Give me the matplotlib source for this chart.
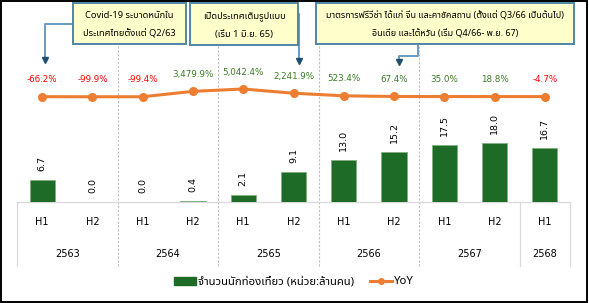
import matplotlib
matplotlib.use("Agg")
import matplotlib.pyplot as plt
from matplotlib import font_manager as fm
from matplotlib.ft2font import FT2Font
from matplotlib.patches import Rectangle, Patch
from matplotlib.lines import Line2D
from matplotlib.transforms import blended_transform_factory

# ---- data ----
halves = ["H1", "H2", "H1", "H2", "H1", "H2", "H1", "H2", "H1", "H2", "H1"]
years = ["2563", "2564", "2565", "2566", "2567", "2568"]
tourists = [6.7, 0.0, 0.0, 0.4, 2.1, 9.1, 13.0, 15.2, 17.5, 18.0, 16.7]
yoy = [-66.2, -99.9, -99.4, 3479.9, 5042.4, 2241.9, 523.4, 67.4, 35.0, 18.8, -4.7]
notes = [
    "Covid-19 ระบาดหนักใน\nประเทศไทยตั้งแต่ Q2/63",
    "เปิดประเทศเต็มรูปแบบ\n(เริ่ม 1 มิ.ย. 65)",
    "มาตรการฟรีวีซ่า ได้แก่ จีน และคาซัคสถาน (ตั้งแต่ Q3/66 เป็นต้นไป)\nอินเดีย และไต้หวัน (เริ่ม Q4/66- พ.ย. 67)",
]
bar_label = "จำนวนนักท่องเที่ยว (หน่วย:ล้านคน)"
line_label = "YoY"


def thai_font():
    preferred = ["Tahoma", "Noto Sans Thai", "Noto Sans Thai UI", "Leelawadee UI",
                 "Loma", "Garuda", "Sarabun", "Kinnari", "Norasi"]
    names = {f.name: f.fname for f in fm.fontManager.ttflist}
    for p in preferred:
        if p in names:
            return p
    for f in fm.fontManager.ttflist:
        try:
            if FT2Font(f.fname).get_char_index(ord("ก")):
                return f.name
        except Exception:
            pass
    return "DejaVu Sans"


TH = thai_font()
FAM = [TH, "DejaVu Sans"]
plt.rcParams["font.family"] = FAM

W, H = 589, 303
fig = plt.figure(figsize=(W / 100, H / 100), dpi=100)


def fx(x):
    return x / W


def fy(y):
    return 1 - y / H


# plot area in pixels: x 17..570, y 10..202
L, R, T, B = 17, 570, 10, 202
ax = fig.add_axes([fx(L), fy(B), (R - L) / W, (B - T) / H])
ax2 = ax.twinx()

xs = list(range(len(tourists)))
green = "#1e6a27"
orange = "#ED7D31"

ax.bar(xs, tourists, width=0.5, color=green, edgecolor="#7fb07f", linewidth=0.6, zorder=3)
ax.set_xlim(-0.5, len(xs) - 0.5)
ax.set_ylim(0, 58.9)

for x, v in zip(xs, tourists):
    ax.annotate(f"{v:.1f}", (x, v), xytext=(0, 6.5), textcoords="offset points",
                rotation=90, ha="center", va="bottom", fontsize=6.8,
                family="DejaVu Sans", color="black")

ax2.plot(xs, yoy, color=orange, linewidth=2.2, marker="o", markersize=5.5, zorder=4)
ax2.set_ylim(-69880, 57416)
for x, v in zip(xs, yoy):
    c = "#ff0000" if v < 0 else "#3b7a27"
    ax2.annotate(f"{v:,.1f}%", (x, v), xytext=(0, 12.2), textcoords="offset points",
                 ha="center", va="center", fontsize=6.3, family="DejaVu Sans", color=c)

for a in (ax, ax2):
    a.set_xticks([])
    a.set_yticks([])
    for s in a.spines.values():
        s.set_visible(False)
    a.patch.set_visible(False)

tr = blended_transform_factory(ax.transData, ax.transAxes)
low = (B - 266) / (B - T)

# category grid below the plot
ax.plot([-0.5, len(xs) - 0.5], [0, 0], color="#d9d9d9", lw=0.9, transform=tr, clip_on=False, zorder=2)
for xb in [1.5, 3.5, 5.5, 7.5]:
    ax.plot([xb, xb], [low, 1.0], color="#bfbfbf", lw=0.8, ls=(0, (2, 1.5)),
            transform=tr, clip_on=False, zorder=1)
for xb in [-0.5, 9.5, 10.5]:
    ax.plot([xb, xb], [low, 0], color="#d9d9d9", lw=0.9, transform=tr, clip_on=False)

yh = (B - 222) / (B - T)
yyr = (B - 254) / (B - T)
for x, h in zip(xs, halves):
    ax.text(x, yh, h, transform=tr, ha="center", va="center", fontsize=7, family="DejaVu Sans")
year_pos = [0.5, 2.5, 4.5, 6.5, 8.5, 10]
for x, y in zip(year_pos, years):
    ax.text(x, yyr, y, transform=tr, ha="center", va="center", fontsize=7, family="DejaVu Sans")

# note boxes with connector arrows
box_fill = "#ffffcc"
box_edge = "#4f86a8"
conn = "#6a9ac0"
head = "#1f4e6e"
boxes = [(72.7, 3, 186, 44), (190, 3, 298, 45), (316, 3, 574, 44)]
sizes = [6.7, 6.7, 6.5]
for (x0, y0, x1, y1), txt, fs in zip(boxes, notes, sizes):
    fig.add_artist(Rectangle((fx(x0), fy(y1)), fx(x1) - fx(x0), fy(y0) - fy(y1),
                             transform=fig.transFigure, facecolor=box_fill,
                             edgecolor=box_edge, linewidth=1.4, zorder=5))
    l1, l2 = txt.split("\n")
    cx = fx((x0 + x1) / 2)
    fig.text(cx, fy(16), l1, ha="center", va="center", fontsize=fs, fontweight="bold", zorder=6)
    fig.text(cx, fy(34), l2, ha="center", va="center", fontsize=fs, fontweight="bold", zorder=6)

paths = [
    [(72.7, 24), (45, 24), (45, 57)],
    [(299, 14), (299, 58)],
    [(418, 44), (418, 56), (399, 56), (399, 59)],
]
tips = [(45, 59.5), (299, 61), (399, 62)]
for pth, (tx, ty) in zip(paths, tips):
    fig.add_artist(Line2D([fx(p[0]) for p in pth], [fy(p[1]) for p in pth],
                          transform=fig.transFigure, color=conn, lw=1.4, zorder=4))
    fig.add_artist(Line2D([fx(tx)], [fy(ty)], transform=fig.transFigure, marker="v",
                          markersize=5, color=head, lw=0, zorder=6))

# legend
handles = [Patch(facecolor=green, edgecolor=green),
           Line2D([], [], color=orange, lw=2.2, marker="o", markersize=4)]
fig.legend(handles, [bar_label, line_label], loc="center", bbox_to_anchor=(fx(294), fy(282)),
           ncol=2, frameon=False, fontsize=8.2, handlelength=1.9, handleheight=0.7,
           handletextpad=0.2, columnspacing=1.4, borderpad=0)

# outer frame
fig.add_artist(Rectangle((0.002, 0.004), 0.995, 0.992, transform=fig.transFigure,
                         facecolor="none", edgecolor="black", linewidth=1.4, zorder=10))

fig.savefig("out.png", dpi=100)
